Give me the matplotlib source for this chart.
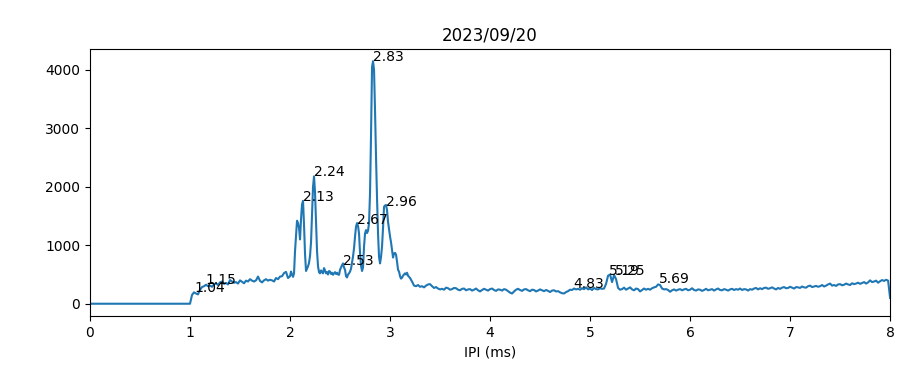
import numpy as np
import matplotlib
matplotlib.use("Agg")
import matplotlib.pyplot as plt

# IPI histogram counts
# flat part before 1 ms
ipi_flat = [0.0, 1.0]
cnt_flat = [0, 0]

# 1.02 - 1.98 ms, 0.02 ms bins
cnt_low = [150, 195, 175, 160, 240, 285, 300, 325, 300, 310,
           290, 330, 350, 320, 365, 380, 340, 355, 330, 405,
           380, 360, 370, 345, 400, 375, 350, 395, 380, 420,
           395, 380, 400, 465, 390, 365, 400, 420, 395, 410,
           400, 380, 440, 420, 465, 470, 525, 545, 440]

# 2.00 - 3.20 ms, 0.01 ms bins
cnt_peak = [470, 550, 500, 460, 520, 900, 1150, 1420, 1380, 1300,
            1100, 1450, 1700, 1760, 1350, 850, 560, 600, 640, 700,
            820, 1050, 1500, 2000, 2180, 1900, 1400, 900, 640, 540,
            520, 570, 540, 520, 610, 570, 520, 540, 500, 560,
            550, 510, 530, 495, 520, 540, 510, 530, 500, 495,
            580, 620, 660, 690, 620, 580, 470, 450, 500, 520,
            550, 600, 700, 810, 950, 1150, 1320, 1380, 1330, 1200,
            870, 650, 560, 620, 980, 1200, 1260, 1210, 1250, 1380,
            1900, 2900, 4050, 4150, 4000, 3300, 2500, 1800, 1200, 800,
            690, 800, 980, 1300, 1660, 1680, 1690, 1600, 1400, 1270,
            1150, 1050, 920, 790, 860, 870, 840, 720, 580, 550,
            470, 430, 445, 480, 500, 520, 500, 530, 480, 460,
            440]

# 3.22 - 8.00 ms, 0.02 ms bins
cnt_tail = [380, 310, 300, 320, 290, 300, 280, 310, 330, 335, 300, 270, 285, 260, 245,
            255, 240, 275, 265, 240, 250, 270, 265, 240, 230, 255, 260, 230, 245, 250,
            225, 240, 260, 230, 210, 235, 255, 240, 225, 250, 260, 235, 220, 245, 240,
            225, 250, 240, 215, 190, 175, 210, 240, 255, 235, 220, 245, 250, 230, 215,
            240, 235, 210, 225, 245, 230, 215, 235, 220, 200, 225, 230, 210, 215, 195,
            180, 175, 200, 215, 240, 235, 260, 245, 255, 240, 265, 250, 280, 245, 260,
            235, 270, 250, 245, 265, 255, 260, 340, 480, 500, 370, 490, 420, 270, 240,
            250, 275, 240, 260, 280, 245, 230, 260, 250, 210, 235, 260, 240, 255, 240,
            265, 280, 290, 330, 320, 260, 245, 250, 235, 205, 230, 245, 225, 240, 250,
            230, 245, 255, 230, 240, 265, 235, 225, 245, 240, 220, 235, 255, 230, 240,
            250, 225, 245, 260, 235, 230, 250, 240, 225, 245, 255, 235, 250, 240, 260,
            235, 250, 245, 225, 250, 240, 260, 270, 245, 265, 250, 270, 275, 255, 265,
            280, 260, 245, 270, 255, 275, 285, 265, 270, 290, 275, 260, 285, 280, 270,
            295, 280, 275, 300, 310, 285, 295, 305, 290, 300, 320, 295, 310, 330, 345,
            310, 320, 305, 330, 335, 315, 325, 345, 330, 320, 350, 335, 345, 360, 340,
            355, 370, 345, 365, 400, 370, 380, 395, 360, 385, 405, 390, 410, 395, 100]

# labelled peaks
peak_ipi = [1.04, 1.15, 2.13, 2.24, 2.53, 2.67, 2.83, 2.96, 4.83, 5.19, 5.25, 5.69]
peak_cnt = [205, 345, 1760, 2180, 670, 1370, 4150, 1680, 265, 500, 500, 350]

# bin positions
ipi_low = 1.02 + 0.02 * np.arange(len(cnt_low))
ipi_peak = 2.00 + 0.01 * np.arange(len(cnt_peak))
ipi_tail = 3.22 + 0.02 * np.arange(len(cnt_tail))

ipi = np.concatenate([ipi_flat, ipi_low, ipi_peak, ipi_tail])
cnt = np.concatenate([cnt_flat, cnt_low, cnt_peak, cnt_tail])

fig, ax = plt.subplots(figsize=(9, 3.66), dpi=100)
fig.subplots_adjust(left=0.1, right=0.989, bottom=0.137, top=0.866)

ax.plot(ipi, cnt)
for x, y in zip(peak_ipi, peak_cnt):
    ax.text(x, y, f"{x:.2f}")

ax.set_xlim(0, 8)
ax.set_xlabel("IPI (ms)")
ax.set_title("2023/09/20")

fig.savefig("out.png")
